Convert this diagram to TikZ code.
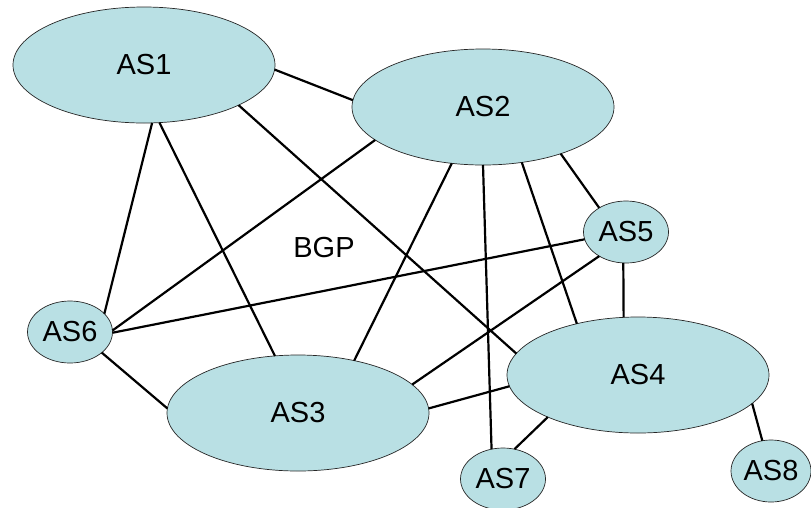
\documentclass[tikz,border=0pt]{standalone}
\usepackage{fontspec}
\setmainfont{Liberation Sans}
\usetikzlibrary{shapes.geometric}
\definecolor{asfill}{RGB}{185,224,228}
\tikzset{
  asbig/.style={ellipse, fill=asfill, draw=black!85, line width=0.7pt, inner sep=0pt, outer sep=0pt,
    minimum width=262pt, minimum height=116pt, font=\fontsize{29}{29}\selectfont},
  assmall/.style={asbig, minimum width=85pt, minimum height=62pt},
  peering/.style={line width=2.2pt, draw=black},
  asnote/.style={font=\fontsize{29}{29}\selectfont},
}
\begin{document}
\begin{tikzpicture}[x=1pt,y=-1pt]
\useasboundingbox (0,0) rectangle (811,507);
\node[asbig] (as1) at (144,65) {AS1};
\node[asbig] (as2) at (483,107) {AS2};
\node[asbig] (as3) at (298,413) {AS3};
\node[asbig] (as4) at (638,375) {AS4};
\node[assmall] (as5) at (626,232) {AS5};
\node[assmall] (as6) at (70,332) {AS6};
\node[assmall] (as7) at (503,479) {AS7};
\node[assmall, minimum width=80pt] (as8) at (771,471) {AS8};
\node[asnote] (bgp) at (324,248) {BGP};
\draw[peering] (as1.-2) -- (as2.177);
\draw[peering] (as1.-82) -- (as6.28);
\draw[peering] (as1.-75) -- (as3.112);
\draw[peering] (as1.-23) -- (as4.170);
\draw[peering] (as2.-163) -- (as6.2);
\draw[peering] (as2.-119) -- (as3.43);
\draw[peering] (as2.-90) -- (as7.111);
\draw[peering] (as2.-55) -- (as4.140);
\draw[peering] (as2.-31) -- (as5.138);
\draw[peering] (as5.-170) -- (as6.-1);
\draw[peering] (as5.-138) -- (as3.14);
\draw[peering] (as5.-95) -- (as4.104);
\draw[peering] (as6.-33) -- (as3.178);
\draw[peering] (as3.2) -- (as4.-175);
\draw[peering] (as4.-155) -- (as7.69);
\draw[peering] (as4.-14) -- (as8.106);
\end{tikzpicture}
\end{document}
